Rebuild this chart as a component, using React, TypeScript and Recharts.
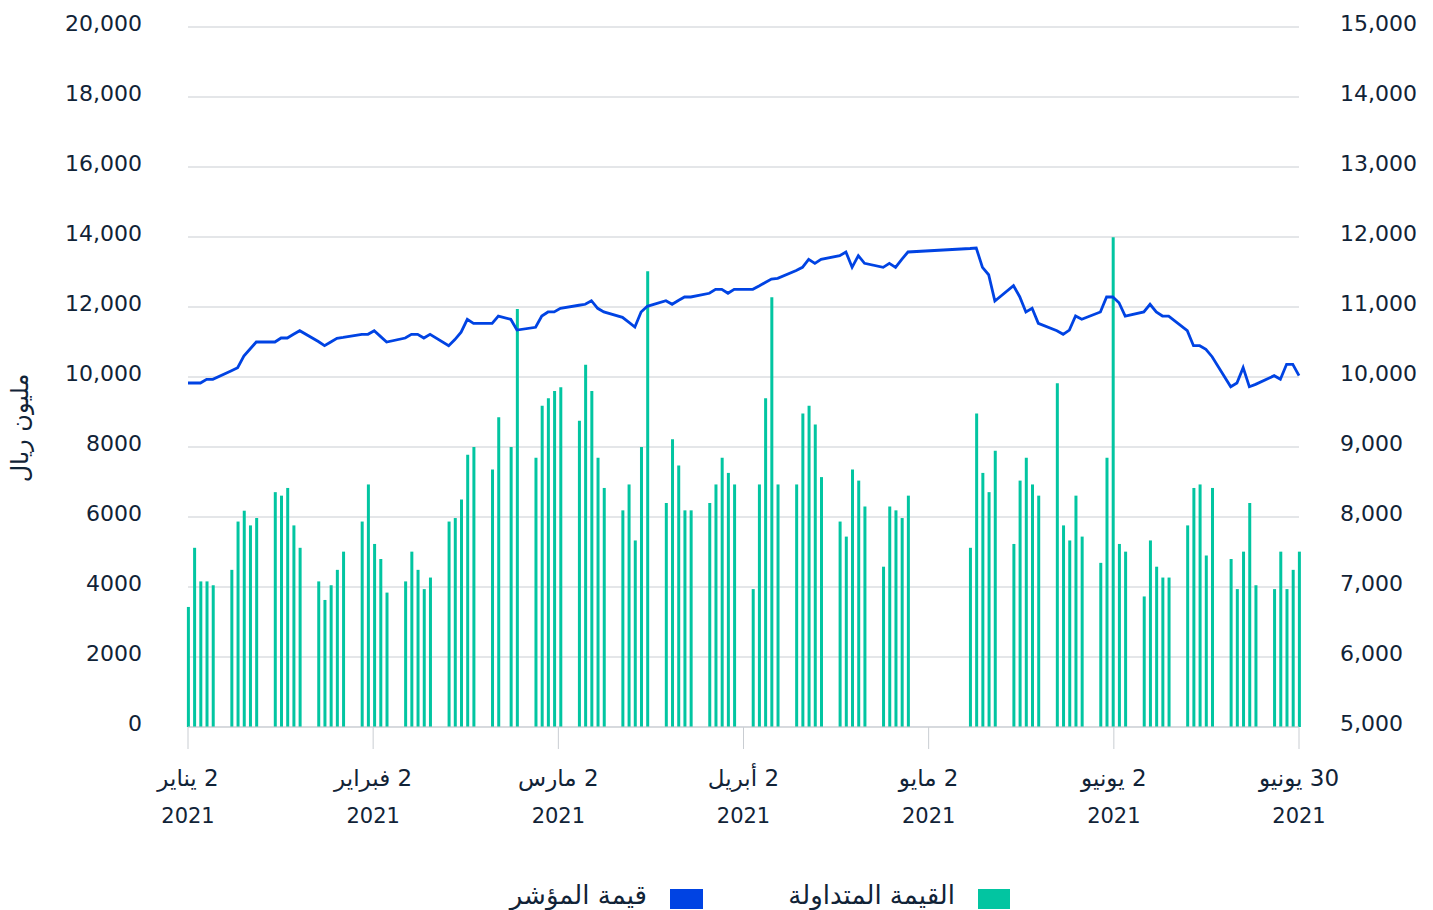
import { ComposedChart, Bar, Line, XAxis, YAxis, CartesianGrid } from 'recharts'

// trading weeks (Sunday start); each row holds Sun..Thu
const weekStarts = [
  '2021-01-03', '2021-01-10', '2021-01-17', '2021-01-24', '2021-01-31',
  '2021-02-07', '2021-02-14', '2021-02-21', '2021-02-28', '2021-03-07',
  '2021-03-14', '2021-03-21', '2021-03-28', '2021-04-04', '2021-04-11',
  '2021-04-18', '2021-04-25', '2021-05-09', '2021-05-16', '2021-05-23',
  '2021-05-30', '2021-06-06', '2021-06-13', '2021-06-20', '2021-06-27',
]

// traded value, million SAR (left axis)
const turnover: (number | null)[][] = [
  [3430, 5120, 4160, 4160, 4050],
  [4490, 5870, 6180, 5760, 5970],
  [6710, 6610, 6830, 5760, 5120],
  [4160, 3630, 4050, 4490, 5010],
  [5870, 6930, 5230, 4800, 3840],
  [4160, 5010, 4490, 3940, 4270],
  [5870, 5970, 6500, 7780, 8000],
  [7360, 8850, null, 8000, 11940],
  [7690, 9180, 9390, 9600, 9710],
  [8750, 10350, 9600, 7690, 6830],
  [6190, 6930, 5330, 8000, 13020],
  [6400, 8220, 7470, 6190, 6190],
  [6400, 6930, 7690, 7260, 6930],
  [3940, 6930, 9390, 12280, 6930],
  [6930, 8960, 9180, 8640, 7140],
  [5870, 5440, 7360, 7040, 6300],
  [4580, 6300, 6190, 5970, 6610],
  [5120, 8960, 7260, 6710, 7890],
  [5230, 7040, 7690, 6930, 6610],
  [9820, 5760, 5330, 6610, 5440],
  [4690, 7690, 13990, 5230, 5010],
  [3730, 5330, 4580, 4270, 4270],
  [5760, 6830, 6930, 4900, 6830],
  [4800, 3940, 5010, 6400, 4050],
  [3940, 5010, 3940, 4490, 5010],
]

// index level (right axis)
const indexLevel: (number | null)[][] = [
  [9914, 9914, 9914, 9967, 9967],
  [10090, 10133, 10300, 10400, 10500],
  [10500, 10557, 10557, 10610, 10661],
  [10507, 10447, 10500, 10553, 10565],
  [10610, 10610, 10661, 10580, 10500],
  [10557, 10610, 10610, 10557, 10610],
  [10447, 10535, 10640, 10824, 10767],
  [10767, 10871, null, 10824, 10671],
  [10710, 10871, 10929, 10929, 10981],
  [11025, 11039, 11090, 10981, 10929],
  [10853, 10785, 10714, 10929, 11010],
  [11090, 11039, 11093, 11143, 11143],
  [11196, 11253, 11253, 11196, 11253],
  [11253, 11300, 11350, 11400, 11410],
  [11520, 11567, 11681, 11624, 11681],
  [11733, 11786, 11567, 11733, 11624],
  [11567, 11624, 11567, 11681, 11786],
  [11836, 11843, 11567, 11461, 11086],
  [11304, 11147, 10929, 10981, 10767],
  [10661, 10610, 10671, 10871, 10824],
  [10929, 11143, 11143, 11061, 10871],
  [10929, 11039, 10929, 10871, 10871],
  [10661, 10447, 10447, 10396, 10290],
  [9861, 9914, 10133, 9861, 9895],
  [10019, 9967, 10181, 10181, 10019],
]

const xTicks = [0, 29.83, 59.67, 89.5, 119.33, 149.17, 179]
const xTickLabels = ['2 يناير', '2 فبراير', '2 مارس', '2 أبريل', '2 مايو', '2 يونيو', '30 يونيو']
const xTickYear = '2021'
const leftTicks = [0, 2000, 4000, 6000, 8000, 10000, 12000, 14000, 16000, 18000, 20000]
const rightTicks = [5000, 6000, 7000, 8000, 9000, 10000, 11000, 12000, 13000, 14000, 15000]

const FONT = '"DejaVu Sans", "Noto Sans", sans-serif'
const TEXT = '#112337'
const GRID = '#c9cdd2'
const TEAL = '#02c5a1'
const BLUE = '#0043e3'

const firstDay = Date.parse('2021-01-03')
const rows = weekStarts.flatMap((ws, w) => {
  const start = (Date.parse(ws) - firstDay) / 86400000
  return turnover[w]
    .map((t, d) => (t == null ? null : { day: start + d, turnover: t, index: indexLevel[w][d] }))
    .filter((r) => r !== null)
})

const fmt = (v: number) => v.toLocaleString('en-US')

function LeftTick(props: any) {
  const v = props.payload.value as number
  return (
    <text x={142} y={props.y + 4} textAnchor="end" fill={TEXT} fontSize={22} fontFamily={FONT}>
      {v >= 10000 ? fmt(v) : String(v)}
    </text>
  )
}

function RightTick(props: any) {
  return (
    <text x={1340} y={props.y + 4} textAnchor="start" fill={TEXT} fontSize={22} fontFamily={FONT}>
      {fmt(props.payload.value)}
    </text>
  )
}

function BottomTick(props: any) {
  const i = xTicks.indexOf(props.payload.value)
  return (
    <g>
      <text x={props.x} y={786} textAnchor="middle" direction="rtl" fill={TEXT} fontSize={23} fontFamily={FONT}>
        {xTickLabels[i]}
      </text>
      <text x={props.x} y={823} textAnchor="middle" fill={TEXT} fontSize={21} fontFamily={FONT}>
        {xTickYear}
      </text>
    </g>
  )
}

export default function App() {
  return (
    <div style={{ position: 'absolute', left: 0, top: 0, width: 1433, height: 910, background: '#fff', fontFamily: FONT, color: TEXT }}>
      <ComposedChart width={1433} height={910} data={rows} margin={{ top: 27, right: 0, bottom: 123, left: 0 }}>
        <CartesianGrid yAxisId="left" vertical={false} stroke={GRID} strokeWidth={1} />
        <XAxis
          dataKey="day"
          type="number"
          domain={[0, 179]}
          ticks={xTicks}
          interval={0}
          height={60}
          tickSize={22}
          stroke={GRID}
          tick={<BottomTick />}
        />
        <YAxis
          yAxisId="left"
          domain={[0, 20000]}
          ticks={leftTicks}
          width={188}
          axisLine={false}
          tickLine={false}
          tick={<LeftTick />}
        />
        <YAxis
          yAxisId="right"
          orientation="right"
          domain={[5000, 15000]}
          ticks={rightTicks}
          width={134}
          axisLine={false}
          tickLine={false}
          tick={<RightTick />}
        />
        <Bar yAxisId="left" dataKey="turnover" fill={TEAL} barSize={3} isAnimationActive={false} />
        <Line
          yAxisId="right"
          dataKey="index"
          type="linear"
          stroke={BLUE}
          strokeWidth={2.8}
          dot={false}
          connectNulls
          isAnimationActive={false}
        />
      </ComposedChart>

      <div
        style={{
          position: 'absolute',
          left: 20,
          top: 428,
          transform: 'translate(-50%, -50%) rotate(-90deg)',
          whiteSpace: 'nowrap',
          fontSize: 24,
        }}
      >
        مليون ريال
      </div>

      <div style={{ position: 'absolute', left: 978, top: 889, width: 32, height: 20, background: TEAL }} />
      <div style={{ position: 'absolute', right: 1433 - 955, top: 880, fontSize: 26, lineHeight: '30px', whiteSpace: 'nowrap' }}>
        القيمة المتداولة
      </div>
      <div style={{ position: 'absolute', left: 670, top: 889, width: 33, height: 20, background: BLUE }} />
      <div style={{ position: 'absolute', right: 1433 - 647, top: 880, fontSize: 26, lineHeight: '30px', whiteSpace: 'nowrap' }}>
        قيمة المؤشر
      </div>
    </div>
  )
}
